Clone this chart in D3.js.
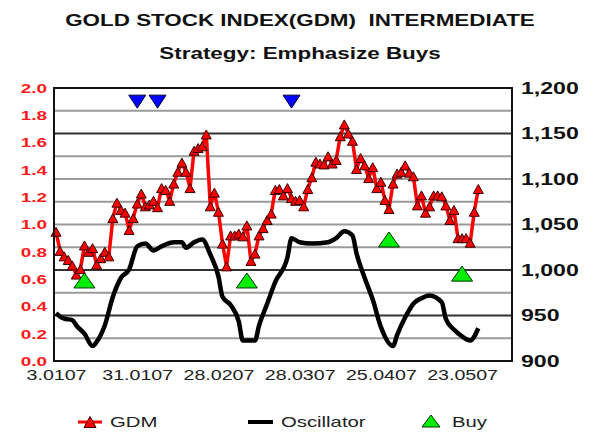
<!DOCTYPE html>
<html>
<head>
<meta charset="utf-8">
<script src="https://cdn.jsdelivr.net/npm/d3@7"></script>
<style>
  body { margin: 0; background: #fff; }
  text { font-family: "Liberation Sans", Arial, sans-serif; }
</style>
</head>
<body>
<div id="chart"></div>
<script>
// GDM daily closes (right axis)
var gdm = [1042, 1021, 1015, 1011, 1005, 995, 1001, 1027, 1020, 1024,
    1006, 1013, 1020, 1015, 1057, 1074, 1066, 1063, 1044, 1057,
    1073, 1084, 1070, 1072, 1076, 1069, 1090, 1088, 1076, 1095,
    1108, 1118, 1108, 1090, 1131, 1134, 1136, 1149, 1070, 1085,
    1064, 1029, 1004, 1038, 1038, 1040, 1037, 1049, 1010, 1018,
    1038, 1046, 1055, 1062, 1088, 1089, 1082, 1090, 1079, 1076,
    1077, 1070, 1089, 1102, 1119, 1117, 1116, 1125, 1117, 1121,
    1147, 1160, 1150, 1142, 1111, 1123, 1115, 1101, 1113, 1090,
    1097, 1077, 1067, 1095, 1106, 1108, 1115, 1107, 1103, 1071,
    1082, 1063, 1070, 1082, 1082, 1081, 1071, 1055, 1066, 1035,
    1035, 1035, 1030, 1064, 1089];

// oscillator (left axis), read at these day indexes
var oscIdx = [0, 2, 4, 5, 7, 9, 10, 12, 14, 16, 18, 20, 22, 24, 26, 29, 31, 32, 34, 36,
    38, 40, 41, 43, 45, 46, 49, 50, 52, 54, 57, 58, 60, 63, 67, 69, 71, 73, 74, 76,
    78, 80, 83, 84, 86, 88, 90, 92, 95, 96, 98, 100, 102, 104];
var oscVal = [0.35, 0.31, 0.30, 0.26, 0.20, 0.11, 0.14, 0.26, 0.47, 0.61, 0.67, 0.84, 0.86, 0.81, 0.84, 0.87, 0.87, 0.83, 0.87, 0.89,
    0.78, 0.62, 0.47, 0.41, 0.29, 0.15, 0.15, 0.26, 0.42, 0.58, 0.76, 0.90, 0.87, 0.86, 0.87, 0.90, 0.95, 0.92, 0.79, 0.61,
    0.45, 0.25, 0.11, 0.19, 0.32, 0.42, 0.46, 0.48, 0.43, 0.31, 0.23, 0.18, 0.15, 0.24];

// signals (left axis)
var sellIdx = [20, 25, 58];
var sellVal = [1.9, 1.9, 1.9];
var buyIdx = [7, 47, 82, 100];
var buyVal = [0.59, 0.59, 0.89, 0.64];

var xLabelIdx = [0, 20, 40, 60, 80, 100];
var xLabels = ["3.0107", "31.0107", "28.0207", "28.0307", "25.0407", "23.0507"];
var leftTicks = [0, 0.2, 0.4, 0.6, 0.8, 1.0, 1.2, 1.4, 1.6, 1.8, 2.0];
var rightTicks = [900, 950, 1000, 1050, 1100, 1150, 1200];
var gridValues = [925, 950, 975, 1000, 1025, 1050, 1075, 1100, 1125, 1150, 1175];
var darkGrid = [950, 1000, 1150];

var W = 600, H = 448;
var plot = { left: 54, right: 512, top: 88, bottom: 361 };
var stretchK = 1.4;

/*  stretch()
    the source picture is squeezed wide, so widen every label  */
function stretch(sel, k) {
    sel.each(function () {
        var w = this.getComputedTextLength();
        d3.select(this).attr("textLength", w * k).attr("lengthAdjust", "spacingAndGlyphs");
    });
}

function triUp(w, h) {
    return "M0," + (-h / 2) + "L" + (w / 2) + "," + (h / 2) + "L" + (-w / 2) + "," + (h / 2) + "Z";
}
function triDown(w, h) {
    return "M0," + (h / 2) + "L" + (w / 2) + "," + (-h / 2) + "L" + (-w / 2) + "," + (-h / 2) + "Z";
}

var svg = d3.select("#chart").append("svg")
    .attr("width", W).attr("height", H);

var x = d3.scaleLinear().domain([-0.5, 112.3]).range([plot.left, plot.right]);
var yL = d3.scaleLinear().domain([0, 2]).range([plot.bottom, plot.top]);
var yR = d3.scaleLinear().domain([900, 1200]).range([plot.bottom, plot.top]);

// titles
svg.append("text")
    .attr("x", W / 2).attr("y", 26)
    .attr("text-anchor", "middle")
    .style("white-space", "pre")
    .attr("font-size", 16).attr("font-weight", "bold").attr("fill", "#111")
    .text("GOLD STOCK INDEX(GDM)  INTERMEDIATE")
    .call(stretch, stretchK);
svg.append("text")
    .attr("x", W / 2).attr("y", 59)
    .attr("text-anchor", "middle")
    .attr("font-size", 16).attr("font-weight", "bold").attr("fill", "#111")
    .text("Strategy: Emphasize Buys")
    .call(stretch, stretchK);

// grid
svg.append("g").selectAll("line")
    .data(gridValues)
    .enter().append("line")
    .attr("x1", plot.left).attr("x2", plot.right)
    .attr("y1", function (d) { return yR(d); })
    .attr("y2", function (d) { return yR(d); })
    .attr("stroke", function (d) { return darkGrid.indexOf(d) >= 0 ? "#333" : "#9a9a9a"; })
    .attr("stroke-width", 1.8);

// axes
var gl = svg.append("g")
    .attr("transform", "translate(" + plot.left + ",0)")
    .call(d3.axisLeft(yL).tickValues(leftTicks).tickFormat(d3.format(".1f")).tickSize(0).tickPadding(7));
gl.select(".domain").remove();
gl.selectAll("text")
    .attr("font-size", 13.5).attr("font-weight", "bold").attr("fill", "#ff1a1a")
    .attr("font-family", "Liberation Sans, Arial, sans-serif")
    .call(stretch, stretchK);

var gr = svg.append("g")
    .attr("transform", "translate(" + plot.right + ",0)")
    .call(d3.axisRight(yR).tickValues(rightTicks).tickFormat(d3.format(",")).tickSize(0).tickPadding(9));
gr.select(".domain").remove();
gr.selectAll("text")
    .attr("font-size", 16.5).attr("font-weight", "bold").attr("fill", "#111")
    .attr("font-family", "Liberation Sans, Arial, sans-serif")
    .call(stretch, stretchK);

var gx = svg.append("g")
    .attr("transform", "translate(0," + plot.bottom + ")")
    .call(d3.axisBottom(x).tickValues(xLabelIdx)
        .tickFormat(function (d, i) { return xLabels[i]; })
        .tickSize(0).tickPadding(9));
gx.select(".domain").remove();
gx.selectAll("text")
    .attr("font-size", 14).attr("fill", "#222")
    .attr("font-family", "Liberation Sans, Arial, sans-serif")
    .call(stretch, stretchK);

// oscillator
var oscPts = oscIdx.map(function (d, i) { return [d, oscVal[i]]; });
svg.append("path")
    .datum(oscPts)
    .attr("fill", "none")
    .attr("stroke", "#000")
    .attr("stroke-width", 4.5)
    .attr("stroke-linejoin", "round")
    .attr("d", d3.line()
        .x(function (d) { return x(d[0]); })
        .y(function (d) { return yL(d[1]); })
        .curve(d3.curveMonotoneX));

// GDM line + markers
svg.append("path")
    .datum(gdm)
    .attr("fill", "none")
    .attr("stroke", "#ff0000")
    .attr("stroke-width", 3.5)
    .attr("stroke-linejoin", "round")
    .attr("d", d3.line()
        .x(function (d, i) { return x(i); })
        .y(function (d) { return yR(d); }));

svg.append("g").selectAll("path")
    .data(gdm)
    .enter().append("path")
    .attr("transform", function (d, i) { return "translate(" + x(i) + "," + yR(d) + ")"; })
    .attr("d", triUp(10, 9))
    .attr("fill", "#ff0000")
    .attr("stroke", "#3a0000")
    .attr("stroke-width", 1);

// sell signals
svg.append("g").selectAll("path")
    .data(sellIdx)
    .enter().append("path")
    .attr("transform", function (d, i) { return "translate(" + x(d) + "," + yL(sellVal[i]) + ")"; })
    .attr("d", triDown(17, 13))
    .attr("fill", "#0000ff")
    .attr("stroke", "#000033")
    .attr("stroke-width", 1);

// buy signals
svg.append("g").selectAll("path")
    .data(buyIdx)
    .enter().append("path")
    .attr("transform", function (d, i) { return "translate(" + x(d) + "," + yL(buyVal[i]) + ")"; })
    .attr("d", triUp(21, 15))
    .attr("fill", "#00ee00")
    .attr("stroke", "#003300")
    .attr("stroke-width", 1);

// plot frame
svg.append("rect")
    .attr("x", plot.left).attr("y", plot.top)
    .attr("width", plot.right - plot.left)
    .attr("height", plot.bottom - plot.top)
    .attr("fill", "none")
    .attr("stroke", "#111")
    .attr("stroke-width", 2);

// legend
var ly = 422;
var legend = svg.append("g");
legend.append("line")
    .attr("x1", 78).attr("x2", 102).attr("y1", ly).attr("y2", ly)
    .attr("stroke", "#ff0000").attr("stroke-width", 3);
legend.append("path")
    .attr("transform", "translate(90," + ly + ")")
    .attr("d", triUp(12, 11))
    .attr("fill", "#ff0000").attr("stroke", "#3a0000");
legend.append("line")
    .attr("x1", 248).attr("x2", 273).attr("y1", ly).attr("y2", ly)
    .attr("stroke", "#000").attr("stroke-width", 4);
legend.append("path")
    .attr("transform", "translate(431," + (ly - 1) + ")")
    .attr("d", triUp(18, 12))
    .attr("fill", "#00ee00").attr("stroke", "#003300");

var legendX = [110, 281, 452];
var legendNames = ["GDM", "Oscillator", "Buy"];
legend.selectAll("text")
    .data(legendNames)
    .enter().append("text")
    .attr("x", function (d, i) { return legendX[i]; })
    .attr("y", ly + 5)
    .attr("font-size", 14.5)
    .attr("fill", "#222")
    .text(function (d) { return d; })
    .call(stretch, stretchK);
</script>
</body>
</html>
